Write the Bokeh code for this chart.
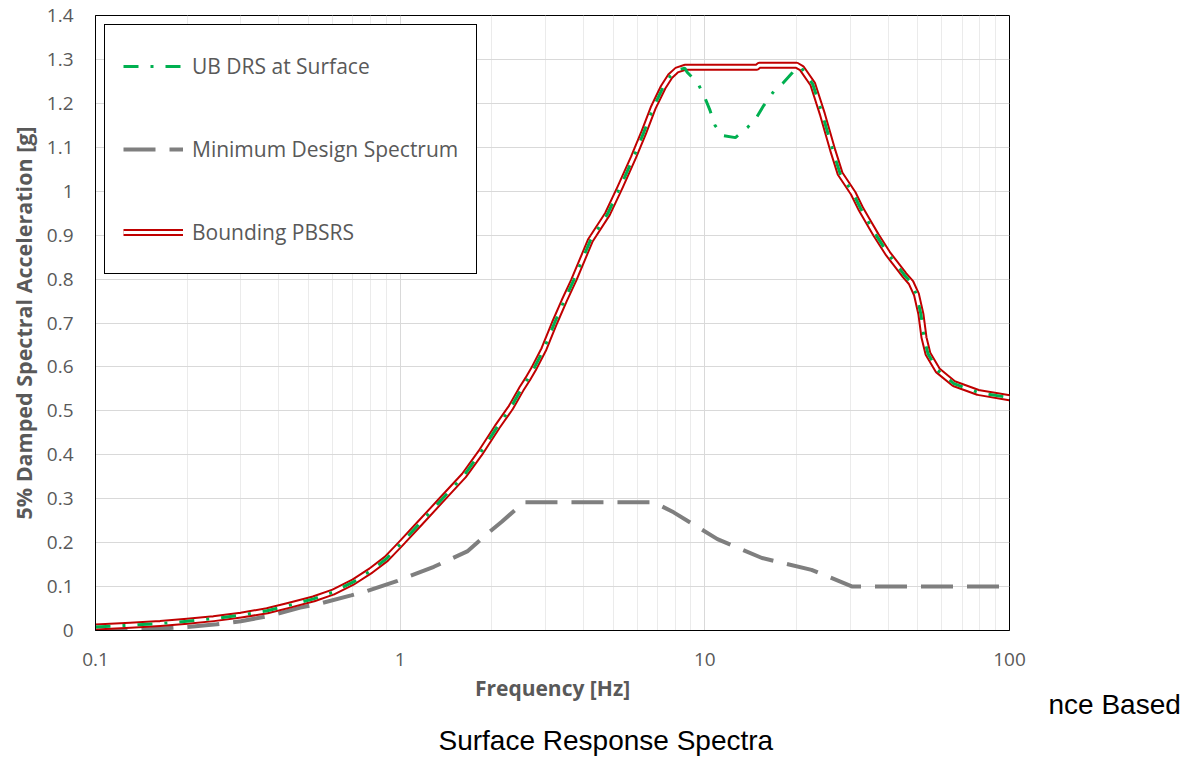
from bokeh.plotting import figure
from bokeh.models import FixedTicker, CustomJSTickFormatter, Legend, LegendItem, Title
from bokeh.embed import file_html
from bokeh.resources import INLINE

# ---- data ----
freq_bound = [0.1, 0.13, 0.163, 0.2, 0.244, 0.3, 0.366, 0.43, 0.52, 0.6, 0.7, 0.8, 0.9,
              1.0, 1.17, 1.36, 1.62, 1.84, 2.08, 2.31, 2.5, 2.62, 2.75, 2.96, 3.21, 3.45,
              3.71, 4.21, 4.79, 5.27, 5.83, 6.28, 6.78, 7.3, 7.7, 8.1, 8.6, 14.8, 15.1,
              20.0, 20.8, 22.6, 24.3, 26.3, 27.8, 30.7, 32.5, 34.1, 36.5, 39.9, 45.1,
              47.5, 49.5, 51.2, 52.4, 54.0, 58.2, 65.7, 78.8, 100.0]
sa_bound = [0.008, 0.012, 0.016, 0.021, 0.027, 0.035, 0.045, 0.057, 0.072, 0.087, 0.11, 0.136, 0.163,
            0.196, 0.247, 0.296, 0.353, 0.406, 0.463, 0.508, 0.55, 0.572, 0.597, 0.64, 0.70, 0.75,
            0.797, 0.888, 0.948, 1.009, 1.077, 1.131, 1.191, 1.237, 1.262, 1.276, 1.282, 1.282, 1.287,
            1.287, 1.28, 1.244, 1.176, 1.093, 1.04, 0.995, 0.96, 0.935, 0.9, 0.858, 0.81,
            0.792, 0.765, 0.72, 0.667, 0.63, 0.592, 0.562, 0.542, 0.53]

freq_ub = [0.1, 0.13, 0.163, 0.2, 0.244, 0.3, 0.366, 0.43, 0.52, 0.6, 0.7, 0.8, 0.9,
           1.0, 1.17, 1.36, 1.62, 1.84, 2.08, 2.31, 2.5, 2.62, 2.75, 2.96, 3.21, 3.45,
           3.71, 4.21, 4.79, 5.27, 5.83, 6.28, 6.78, 7.3, 7.7, 8.1, 8.6, 8.75, 9.5, 9.99,
           10.4, 10.8, 11.4, 12.6, 13.8, 14.7, 15.6, 16.9, 18.0, 19.4, 20.0,
           20.8, 22.6, 24.3, 26.3, 27.8, 30.7, 32.5, 34.1, 36.5, 39.9, 45.1,
           47.5, 49.5, 51.2, 52.4, 54.0, 58.2, 65.7, 78.8, 100.0]
sa_ub = [0.008, 0.012, 0.016, 0.021, 0.027, 0.035, 0.045, 0.057, 0.072, 0.087, 0.11, 0.136, 0.163,
         0.196, 0.247, 0.296, 0.353, 0.406, 0.463, 0.508, 0.55, 0.572, 0.597, 0.64, 0.70, 0.75,
         0.797, 0.888, 0.948, 1.009, 1.077, 1.131, 1.191, 1.237, 1.262, 1.276, 1.28, 1.271, 1.245, 1.214,
         1.184, 1.15, 1.127, 1.122, 1.145, 1.165, 1.195, 1.229, 1.245, 1.27, 1.282,
         1.28, 1.244, 1.176, 1.093, 1.04, 0.995, 0.96, 0.935, 0.9, 0.858, 0.81,
         0.792, 0.765, 0.72, 0.667, 0.63, 0.592, 0.562, 0.542, 0.53]

freq_min = [0.1, 0.15, 0.2, 0.25, 0.3, 0.37, 0.47, 0.55, 0.69, 0.78, 0.98, 1.29, 1.66, 1.93,
            2.15, 2.55, 6.8, 7.9, 11.0, 15.4, 22.4, 30.5, 100.0]
sa_min = [0.0, 0.003, 0.008, 0.014, 0.021, 0.033, 0.052, 0.062, 0.08, 0.09, 0.113, 0.145, 0.18, 0.22,
          0.247, 0.292, 0.292, 0.269, 0.208, 0.165, 0.138, 0.1, 0.1]

x_ticks = [0.1, 1, 10, 100]
x_minor = [m * d for d in (0.1, 1, 10) for m in range(2, 10)]
y_ticks = [0, 0.1, 0.2, 0.3, 0.4, 0.5, 0.6, 0.7, 0.8, 0.9, 1.0, 1.1, 1.2, 1.3, 1.4]

labels = ["UB DRS at Surface", "Minimum Design Spectrum", "Bounding PBSRS"]
x_title = "Frequency [Hz]"
y_title = "5% Damped Spectral Acceleration [g]"
caption1 = "nce Based"
caption2 = "Surface Response Spectra"

TXT = "#595959"
FONT = "Open Sans"

p = figure(width=1196, height=757, x_axis_type="log", x_range=(0.1, 100), y_range=(0, 1.4),
           output_backend="svg", toolbar_location=None,
           min_border_left=95, min_border_right=187, min_border_top=15, min_border_bottom=127)
p.background_fill_color = "white"
p.border_fill_color = "white"
p.outline_line_color = "black"
p.outline_line_width = 1

xt = FixedTicker(ticks=x_ticks, minor_ticks=x_minor)
yt = FixedTicker(ticks=y_ticks)
p.xaxis.ticker = xt
p.xgrid.ticker = xt
p.yaxis.ticker = yt
p.ygrid.ticker = yt
p.xaxis.formatter = CustomJSTickFormatter(code="return String(Math.round(tick*10)/10)")
p.yaxis.formatter = CustomJSTickFormatter(code="return String(Math.round(tick*10)/10)")

p.xgrid.grid_line_color = "#D9D9D9"
p.xgrid.minor_grid_line_color = "#EBEBEB"
p.ygrid.grid_line_color = "#D9D9D9"

for ax in (p.xaxis, p.yaxis):
    ax.axis_line_color = "black"
    ax.major_tick_line_color = None
    ax.minor_tick_line_color = None
    ax.major_tick_out = 0
    ax.major_tick_in = 0
    ax.minor_tick_out = 0
    ax.minor_tick_in = 0
    ax.major_label_text_font = FONT
    ax.major_label_text_font_size = "19px"
    ax.major_label_text_color = TXT
    ax.axis_label_text_font = FONT
    ax.axis_label_text_font_style = "bold"
    ax.axis_label_text_color = TXT

p.xaxis.axis_label = x_title
p.yaxis.axis_label = y_title
p.xaxis.axis_label_text_font_size = "21px"
p.yaxis.axis_label_text_font_size = "21.5px"
p.xaxis.major_label_standoff = 22
p.xaxis.axis_label_standoff = 5
p.yaxis.major_label_standoff = 22
p.yaxis.axis_label_standoff = 6

r_min = p.line(freq_min, sa_min, line_color="#7F7F7F", line_width=4, line_dash="32 14")
r_out = p.line(freq_bound, sa_bound, line_color="#C00000", line_width=7, line_join="round")
r_in = p.line(freq_bound, sa_bound, line_color="white", line_width=3, line_join="round")
r_ub = p.line(freq_ub, sa_ub, line_color="#00B050", line_width=3, line_dash="15 12 3 12")

legend = Legend(items=[LegendItem(label=labels[0], renderers=[r_ub]),
                       LegendItem(label=labels[1], renderers=[r_min]),
                       LegendItem(label=labels[2], renderers=[r_out, r_in])],
                location="top_left", margin=9, padding=18, spacing=37,
                glyph_width=60, glyph_height=46, label_height=46, label_standoff=9,
                border_line_color="black", border_line_width=1, border_line_alpha=1,
                background_fill_color="white", background_fill_alpha=1,
                label_text_font=FONT, label_text_font_size="21px", label_text_color=TXT)
p.add_layout(legend)

# captions below the chart (cropped figure caption of the source document)
p.add_layout(Title(text=caption1, align="left", offset=953, vertical_align="middle", standoff=-33,
                   text_font="Liberation Sans", text_font_size="28px", text_font_style="normal",
                   text_color="black"), "below")
p.add_layout(Title(text=" ", align="left", offset=0, vertical_align="middle", standoff=17,
                   text_font="Liberation Sans", text_font_size="1px", text_font_style="normal",
                   text_color="white"), "below")
p.add_layout(Title(text=caption2, align="left", offset=343, vertical_align="middle", standoff=-2,
                   text_font="Liberation Sans", text_font_size="28px", text_font_style="normal",
                   text_color="black"), "below")

open("out.html", "w").write(file_html(p, INLINE))
